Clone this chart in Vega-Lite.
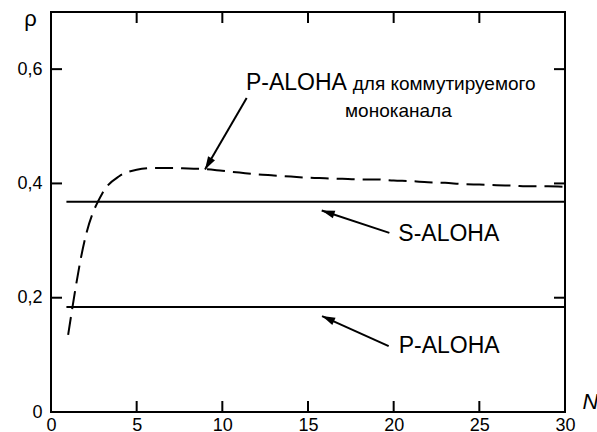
{
  "$schema": "https://vega.github.io/schema/vega-lite/v6.json",
  "width": 514,
  "height": 400,
  "autosize": {"type": "none"},
  "padding": {"left": 51, "top": 12, "right": 32, "bottom": 20},
  "background": "white",
  "config": {
    "view": {"stroke": "#000", "strokeWidth": 2},
    "axis": {
      "domain": false,
      "grid": false,
      "ticks": false,
      "labelFont": "Liberation Sans",
      "labelFontSize": 18,
      "labelColor": "#000",
      "labelFlush": false,
      "labelOverlap": false,
      "titleColor": "#000",
      "titleFont": "Liberation Sans",
      "titleFontWeight": "normal"
    }
  },
  "datasets": {
    "curve": [
      {"N": 1, "rho": 0.135}, {"N": 2, "rho": 0.305}, {"N": 3, "rho": 0.383},
      {"N": 4, "rho": 0.413}, {"N": 5, "rho": 0.424}, {"N": 6, "rho": 0.427},
      {"N": 7, "rho": 0.427}, {"N": 8, "rho": 0.426}, {"N": 9, "rho": 0.425},
      {"N": 10, "rho": 0.422}, {"N": 11, "rho": 0.419}, {"N": 12, "rho": 0.416},
      {"N": 13, "rho": 0.414}, {"N": 14, "rho": 0.412}, {"N": 15, "rho": 0.410},
      {"N": 16, "rho": 0.409}, {"N": 17, "rho": 0.408}, {"N": 18, "rho": 0.407},
      {"N": 19, "rho": 0.407}, {"N": 20, "rho": 0.405}, {"N": 21, "rho": 0.404},
      {"N": 22, "rho": 0.402}, {"N": 23, "rho": 0.401}, {"N": 24, "rho": 0.399},
      {"N": 25, "rho": 0.398}, {"N": 26, "rho": 0.397}, {"N": 27, "rho": 0.396},
      {"N": 28, "rho": 0.395}, {"N": 29, "rho": 0.395}, {"N": 30, "rho": 0.394}
    ],
    "levels": [
      {"name": "S-ALOHA", "N0": 0.9, "N1": 30, "rho": 0.3679},
      {"name": "P-ALOHA", "N0": 0.9, "N1": 30, "rho": 0.1839}
    ],
    "arrows": [
      {"id": "curve", "x": 11.42, "y": 0.5495, "x2": 8.99, "y2": 0.4243},
      {"id": "s", "x": 19.75, "y": 0.3135, "x2": 15.8, "y2": 0.3526},
      {"id": "p", "x": 19.71, "y": 0.1154, "x2": 15.82, "y2": 0.1678}
    ],
    "latin": [
      {"text": "P-ALOHA", "x": 11.38, "y": 0.564},
      {"text": "S-ALOHA", "x": 20.27, "y": 0.299},
      {"text": "P-ALOHA", "x": 20.29, "y": 0.1026}
    ],
    "cyrillic": [
      {"text": "для  коммутируемого", "x": 17.61, "y": 0.564},
      {"text": "моноканала", "x": 17.16, "y": 0.516}
    ],
    "xticks": [{"v": 5}, {"v": 10}, {"v": 15}, {"v": 20}, {"v": 25}],
    "yticks": [{"v": 0.2}, {"v": 0.4}, {"v": 0.6}]
  },
  "layer": [
    {
      "data": {"name": "levels"},
      "mark": {"type": "rule", "color": "#000", "strokeWidth": 2},
      "encoding": {
        "x": {
          "field": "N0", "type": "quantitative",
          "scale": {"domain": [0, 30], "nice": false},
          "axis": {
            "orient": "bottom",
            "values": [0, 5, 10, 15, 20, 25, 30],
            "labelPadding": 4,
            "title": "N",
            "titleFontStyle": "italic",
            "titleFontSize": 22,
            "titleX": 531, "titleY": -4,
            "titleAlign": "left", "titleBaseline": "alphabetic",
            "titleAnchor": null
          }
        },
        "x2": {"field": "N1"},
        "y": {
          "field": "rho", "type": "quantitative",
          "scale": {"domain": [0, 0.7], "nice": false},
          "axis": {
            "orient": "left",
            "values": [0, 0.2, 0.4, 0.6],
            "labelPadding": 9,
            "labelExpr": "datum.value == 0 ? '0' : replace(format(datum.value, '.1f'), '.', ',')",
            "title": "ρ",
            "titleAngle": 0,
            "titleFontSize": 22,
            "titleX": -21, "titleY": 13,
            "titleAlign": "center", "titleBaseline": "alphabetic",
            "titleAnchor": null
          }
        }
      }
    },
    {
      "data": {"name": "curve"},
      "mark": {"type": "line", "color": "#000", "strokeWidth": 2, "strokeDash": [18, 8], "interpolate": "monotone"},
      "encoding": {
        "x": {"field": "N", "type": "quantitative", "scale": {"domain": [0, 30], "nice": false}},
        "y": {"field": "rho", "type": "quantitative", "scale": {"domain": [0, 0.7], "nice": false}}
      }
    },
    {
      "data": {"name": "xticks"},
      "mark": {"type": "rule", "color": "#000", "strokeWidth": 2},
      "encoding": {
        "x": {"field": "v", "type": "quantitative", "scale": {"domain": [0, 30], "nice": false}},
        "y": {"datum": 0, "type": "quantitative", "scale": {"domain": [0, 0.7], "nice": false}},
        "y2": {"datum": 0.0193}
      }
    },
    {
      "data": {"name": "xticks"},
      "mark": {"type": "rule", "color": "#000", "strokeWidth": 2},
      "encoding": {
        "x": {"field": "v", "type": "quantitative", "scale": {"domain": [0, 30], "nice": false}},
        "y": {"datum": 0.7, "type": "quantitative", "scale": {"domain": [0, 0.7], "nice": false}},
        "y2": {"datum": 0.6807}
      }
    },
    {
      "data": {"name": "yticks"},
      "mark": {"type": "rule", "color": "#000", "strokeWidth": 2},
      "encoding": {
        "y": {"field": "v", "type": "quantitative", "scale": {"domain": [0, 0.7], "nice": false}},
        "x": {"datum": 0, "type": "quantitative", "scale": {"domain": [0, 30], "nice": false}},
        "x2": {"datum": 0.642}
      }
    },
    {
      "data": {"name": "yticks"},
      "mark": {"type": "rule", "color": "#000", "strokeWidth": 2},
      "encoding": {
        "y": {"field": "v", "type": "quantitative", "scale": {"domain": [0, 0.7], "nice": false}},
        "x": {"datum": 30, "type": "quantitative", "scale": {"domain": [0, 30], "nice": false}},
        "x2": {"datum": 29.358}
      }
    },
    {
      "data": {"name": "arrows"},
      "mark": {"type": "rule", "color": "#000", "strokeWidth": 2},
      "encoding": {
        "x": {"field": "x", "type": "quantitative", "scale": {"domain": [0, 30], "nice": false}},
        "y": {"field": "y", "type": "quantitative", "scale": {"domain": [0, 0.7], "nice": false}},
        "x2": {"field": "x2"},
        "y2": {"field": "y2"}
      }
    },
    {
      "data": {"name": "arrows"},
      "transform": [{"filter": "datum.id == 'curve'"}],
      "mark": {"type": "point", "shape": "M0,0L-0.8,2.6L0.8,2.6Z", "size": 100, "filled": true, "color": "#000", "opacity": 1, "angle": 210},
      "encoding": {
        "x": {"field": "x2", "type": "quantitative", "scale": {"domain": [0, 30], "nice": false}},
        "y": {"field": "y2", "type": "quantitative", "scale": {"domain": [0, 0.7], "nice": false}}
      }
    },
    {
      "data": {"name": "arrows"},
      "transform": [{"filter": "datum.id == 's'"}],
      "mark": {"type": "point", "shape": "M0,0L-0.8,2.6L0.8,2.6Z", "size": 100, "filled": true, "color": "#000", "opacity": 1, "angle": 288},
      "encoding": {
        "x": {"field": "x2", "type": "quantitative", "scale": {"domain": [0, 30], "nice": false}},
        "y": {"field": "y2", "type": "quantitative", "scale": {"domain": [0, 0.7], "nice": false}}
      }
    },
    {
      "data": {"name": "arrows"},
      "transform": [{"filter": "datum.id == 'p'"}],
      "mark": {"type": "point", "shape": "M0,0L-0.8,2.6L0.8,2.6Z", "size": 100, "filled": true, "color": "#000", "opacity": 1, "angle": 294},
      "encoding": {
        "x": {"field": "x2", "type": "quantitative", "scale": {"domain": [0, 30], "nice": false}},
        "y": {"field": "y2", "type": "quantitative", "scale": {"domain": [0, 0.7], "nice": false}}
      }
    },
    {
      "data": {"name": "latin"},
      "mark": {"type": "text", "font": "Liberation Sans", "fontSize": 23, "color": "#000", "align": "left", "baseline": "alphabetic"},
      "encoding": {
        "x": {"field": "x", "type": "quantitative", "scale": {"domain": [0, 30], "nice": false}},
        "y": {"field": "y", "type": "quantitative", "scale": {"domain": [0, 0.7], "nice": false}},
        "text": {"field": "text"}
      }
    },
    {
      "data": {"name": "cyrillic"},
      "mark": {"type": "text", "font": "Liberation Sans", "fontSize": 19, "color": "#000", "align": "left", "baseline": "alphabetic"},
      "encoding": {
        "x": {"field": "x", "type": "quantitative", "scale": {"domain": [0, 30], "nice": false}},
        "y": {"field": "y", "type": "quantitative", "scale": {"domain": [0, 0.7], "nice": false}},
        "text": {"field": "text"}
      }
    }
  ]
}
